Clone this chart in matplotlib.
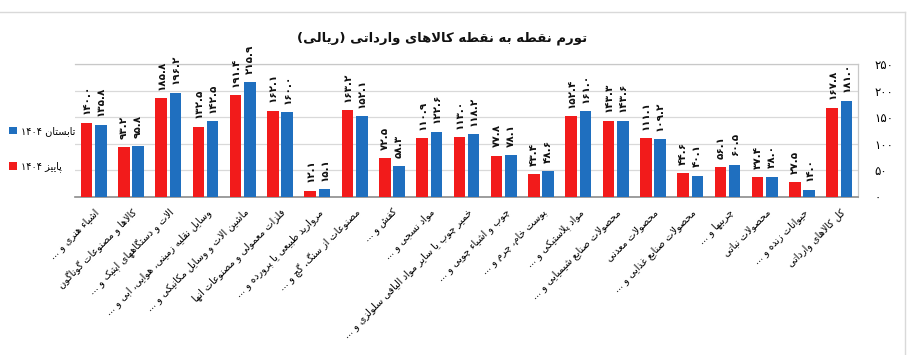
import re
import matplotlib
matplotlib.use("Agg")
import matplotlib.pyplot as plt
from matplotlib.lines import Line2D
import numpy as np

# ---------------- data ----------------
categories = [
    "اشیاء هنری و ...",
    "کالاها و مصنوعات گوناگون",
    "الات و دستگاههای اپتیک و ...",
    "وسایل نقلیه زمینی، هوایی، ابی و ...",
    "ماشین الات و وسایل مکانیکی و ...",
    "فلزات معمولی و مصنوعات انها",
    "مروارید طبیعی یا پرورده و ...",
    "مصنوعات از سنگ، گچ و ...",
    "کفش و ...",
    "مواد نسجی و ...",
    "خمیر چوب یا سایر مواد الیافی سلولزی و ...",
    "چوب و اشیاء چوبی و ...",
    "پوست خام، چرم و ...",
    "مواد پلاستیکی و ...",
    "محصولات صنایع شیمیایی و ...",
    "محصولات معدنی",
    "محصولات صنایع غذایی و ...",
    "چربیها و ...",
    "محصولات نباتی",
    "حیوانات زنده و ...",
    "کل کالاهای وارداتی",
]
autumn_1404 = [140.0, 93.2, 185.8, 132.5, 191.4, 162.1, 12.1, 163.2, 72.5, 110.9,
               113.0, 77.8, 43.4, 152.4, 143.3, 111.1, 44.6, 56.1, 37.4, 27.5, 167.8]
summer_1404 = [135.8, 95.8, 196.2, 142.5, 215.9, 160.0, 15.1, 152.1, 58.3, 122.6,
               118.2, 78.1, 48.6, 161.0, 143.6, 109.2, 40.1, 60.5, 38.0, 14.0, 181.0]
series_names = ["پاییز ۱۴۰۴", "تابستان ۱۴۰۴"]
y_ticks = [0, 50, 100, 150, 200, 250]
y_tick_labels = ["۰", "۵۰", "۱۰۰", "۱۵۰", "۲۰۰", "۲۵۰"]
title = "تورم نقطه به نقطه کالاهای وارداتی (ریالی)"

# ---------------- minimal Persian shaping + bidi ----------------
FORMS = {
    'ء': ('\uFE80', None, None, None),
    'آ': ('\uFE81', '\uFE82', None, None),
    'أ': ('\uFE83', '\uFE84', None, None),
    'ا': ('\uFE8D', '\uFE8E', None, None),
    'ب': ('\uFE8F', '\uFE90', '\uFE91', '\uFE92'),
    'پ': ('\uFB56', '\uFB57', '\uFB58', '\uFB59'),
    'ت': ('\uFE95', '\uFE96', '\uFE97', '\uFE98'),
    'ث': ('\uFE99', '\uFE9A', '\uFE9B', '\uFE9C'),
    'ج': ('\uFE9D', '\uFE9E', '\uFE9F', '\uFEA0'),
    'چ': ('\uFB7A', '\uFB7B', '\uFB7C', '\uFB7D'),
    'ح': ('\uFEA1', '\uFEA2', '\uFEA3', '\uFEA4'),
    'خ': ('\uFEA5', '\uFEA6', '\uFEA7', '\uFEA8'),
    'د': ('\uFEA9', '\uFEAA', None, None),
    'ذ': ('\uFEAB', '\uFEAC', None, None),
    'ر': ('\uFEAD', '\uFEAE', None, None),
    'ز': ('\uFEAF', '\uFEB0', None, None),
    'ژ': ('\uFB8A', '\uFB8B', None, None),
    'س': ('\uFEB1', '\uFEB2', '\uFEB3', '\uFEB4'),
    'ش': ('\uFEB5', '\uFEB6', '\uFEB7', '\uFEB8'),
    'ص': ('\uFEB9', '\uFEBA', '\uFEBB', '\uFEBC'),
    'ض': ('\uFEBD', '\uFEBE', '\uFEBF', '\uFEC0'),
    'ط': ('\uFEC1', '\uFEC2', '\uFEC3', '\uFEC4'),
    'ظ': ('\uFEC5', '\uFEC6', '\uFEC7', '\uFEC8'),
    'ع': ('\uFEC9', '\uFECA', '\uFECB', '\uFECC'),
    'غ': ('\uFECD', '\uFECE', '\uFECF', '\uFED0'),
    'ف': ('\uFED1', '\uFED2', '\uFED3', '\uFED4'),
    'ق': ('\uFED5', '\uFED6', '\uFED7', '\uFED8'),
    'ک': ('\uFB8E', '\uFB8F', '\uFB90', '\uFB91'),
    'گ': ('\uFB92', '\uFB93', '\uFB94', '\uFB95'),
    'ل': ('\uFEDD', '\uFEDE', '\uFEDF', '\uFEE0'),
    'م': ('\uFEE1', '\uFEE2', '\uFEE3', '\uFEE4'),
    'ن': ('\uFEE5', '\uFEE6', '\uFEE7', '\uFEE8'),
    'ه': ('\uFEE9', '\uFEEA', '\uFEEB', '\uFEEC'),
    'و': ('\uFEED', '\uFEEE', None, None),
    'ی': ('\uFBFC', '\uFBFD', '\uFBFE', '\uFBFF'),
}
LAMALEF = {'ا': ('\uFEFB', '\uFEFC'), 'آ': ('\uFEF5', '\uFEF6'), 'أ': ('\uFEF7', '\uFEF8')}


def shape(text):
    out = []
    n = len(text)
    i = 0
    while i < n:
        c = text[i]
        if c not in FORMS:
            out.append(c)
            i += 1
            continue
        prev = text[i - 1] if i > 0 else None
        conn_prev = (prev in FORMS and FORMS[prev][2] is not None
                     and FORMS[c][1] is not None)
        if c == 'ل' and i + 1 < n and text[i + 1] in LAMALEF:
            lig = LAMALEF[text[i + 1]]
            out.append(lig[1] if conn_prev else lig[0])
            i += 2
            continue
        nxt = text[i + 1] if i + 1 < n else None
        conn_next = FORMS[c][2] is not None and nxt in FORMS
        iso, fin, ini, med = FORMS[c]
        if conn_prev and conn_next:
            out.append(med)
        elif conn_prev:
            out.append(fin)
        elif conn_next:
            out.append(ini)
        else:
            out.append(iso)
        i += 1
    return ''.join(out)


NUM_RE = re.compile(r'[0-9\u06F0-\u06F9]+(?:[.\u066B][0-9\u06F0-\u06F9]+)*')


def fa(text):
    s = shape(text)[::-1]
    s = NUM_RE.sub(lambda m: m.group(0)[::-1], s)
    s = s.translate(str.maketrans('()', ')('))
    return s


def fa_num(v):
    return f"{v:.1f}".translate(str.maketrans('0123456789', '۰۱۲۳۴۵۶۷۸۹'))


# ---------------- plot ----------------
plt.rcParams['font.family'] = ['DejaVu Sans']
W, H = 915, 355
fig = plt.figure(figsize=(W / 100, H / 100), dpi=100)
ax = fig.add_axes([75 / W, 1 - 197 / H, (858 - 75) / W, (197 - 64) / H])

red = '#F21B1B'
blue = '#1F6FBF'
x = np.arange(len(categories))
off, bw = 0.19, 0.31
b_red = ax.bar(x - off, autumn_1404, width=bw, color=red, zorder=3)
b_blue = ax.bar(x + off, summer_1404, width=bw, color=blue, zorder=3)

for rects, vals in ((b_red, autumn_1404), (b_blue, summer_1404)):
    for r, v in zip(rects, vals):
        ax.annotate(fa_num(v), (r.get_x() + r.get_width() / 2, r.get_height()),
                    xytext=(0, 6), textcoords='offset points', rotation=90,
                    ha='center', va='bottom', fontsize=7.5, fontweight='bold',
                    color='#111111')

ax.set_xlim(-0.5, len(categories) - 0.5)
ax.set_ylim(0, 250)
ax.set_yticks(y_ticks)
ax.set_yticklabels(y_tick_labels, fontsize=8.5)
ax.yaxis.tick_right()
ax.tick_params(axis='y', length=0, pad=12)
ax.grid(axis='y', color='#D9D9D9', lw=0.9, zorder=0)
ax.set_xticks(x)
ax.set_xticklabels([fa(c) for c in categories], rotation=45, ha='right',
                   va='top', rotation_mode='anchor', fontsize=7)
ax.tick_params(axis='x', length=0, pad=7)
for s in ('top', 'right'):
    ax.spines[s].set_color('#C8C8C8')
    ax.spines[s].set_linewidth(0.9)
ax.spines['left'].set_visible(False)
ax.spines['bottom'].set_color('#8C8C8C')
ax.spines['bottom'].set_linewidth(1.2)

fig.text(442 / W, 1 - 38 / H, fa(title), ha='center', va='center',
         fontsize=9.5, fontweight='bold', color='#111111')

fig.legend([b_blue, b_red], [fa(series_names[1]), fa(series_names[0])],
           loc='center left', bbox_to_anchor=(2 / W, 1 - 149 / H), frameon=False,
           fontsize=7, labelspacing=2.6, handlelength=0.8, handleheight=0.8,
           handletextpad=0.5, borderpad=0.2)

fig.add_artist(Line2D([0, 905 / W], [1 - 12 / H, 1 - 12 / H], transform=fig.transFigure,
                      color='#D9D9D9', lw=1))
fig.add_artist(Line2D([905 / W, 905 / W], [0, 1 - 12 / H], transform=fig.transFigure,
                      color='#D9D9D9', lw=1))

fig.savefig('out.png', dpi=100)
